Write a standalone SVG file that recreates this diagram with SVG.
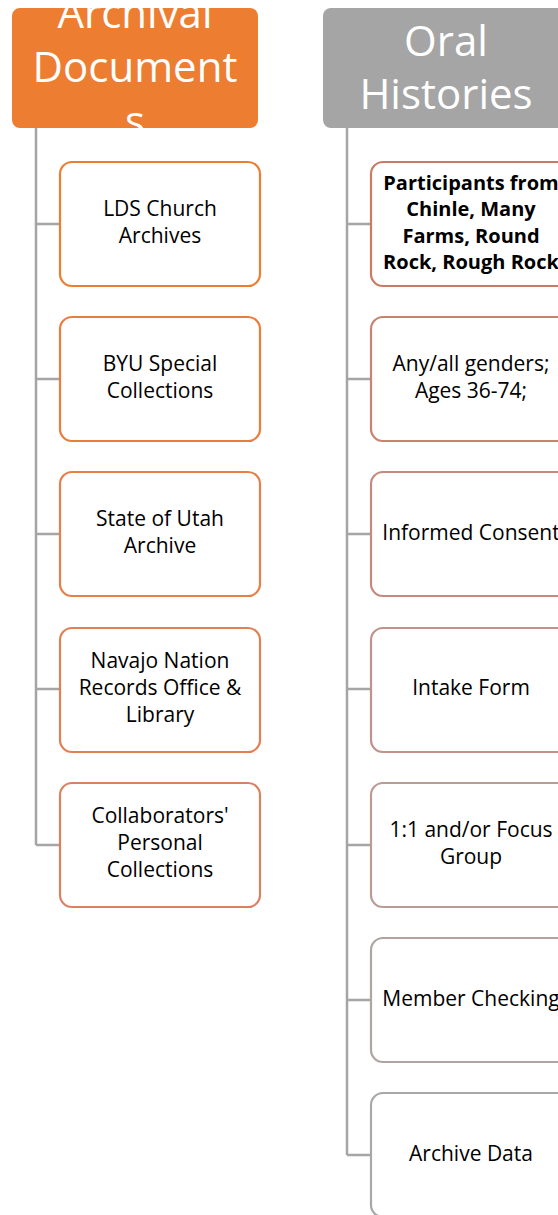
<svg xmlns="http://www.w3.org/2000/svg" width="558" height="1215" viewBox="0 0 558 1215">
<style>
.conn{fill:none;stroke:#A5A5A5;stroke-width:2.5}
.box{fill:#FFFFFF;stroke-width:2.2}
.t{font-family:"Open Sans","Liberation Sans",sans-serif;font-size:21px;fill:#000;text-anchor:middle}
.b{font-weight:bold;font-size:20px}
.h{font-family:"Open Sans","Liberation Sans",sans-serif;font-size:42px;fill:#FFFFFF;text-anchor:middle}
</style>
<rect width="558" height="1215" fill="#FFFFFF"/>
<g id="connectors">
<path class="conn" d="M36 128V845M36 224H60M36 379H60M36 534H60M36 689H60M36 845H60"/>
<path class="conn" d="M347 128V1155M347 224H371M347 379H371M347 534H371M347 689H371M347 845H371M347 1000H371M347 1155H371"/>
</g>
<g id="archival">
<rect x="12" y="8" width="246" height="120" rx="8" fill="#ED7D31"/>
<text class="h" x="135" y="28">Archival</text>
<text class="h" x="135" y="82">Document</text>
<text class="h" x="135" y="136">s</text>
</g>
<g id="oral">
<rect x="323" y="8" width="250" height="120" rx="8" fill="#A5A5A5"/>
<text class="h" x="446" y="56">Oral</text>
<text class="h" x="446" y="109">Histories</text>
</g>
<g id="lds"><rect class="box" x="60" y="162" width="200" height="124" rx="12" stroke="#ED7D31"/>
<text class="t" x="160" y="216">LDS Church</text><text class="t" x="160" y="243">Archives</text></g>
<g id="byu"><rect class="box" x="60" y="317" width="200" height="124" rx="12" stroke="#EA7D3C"/>
<text class="t" x="160" y="371">BYU Special</text><text class="t" x="160" y="398">Collections</text></g>
<g id="utah"><rect class="box" x="60" y="472" width="200" height="124" rx="12" stroke="#E67F48"/>
<text class="t" x="160" y="526">State of Utah</text><text class="t" x="160" y="553">Archive</text></g>
<g id="navajo"><rect class="box" x="60" y="628" width="200" height="124" rx="12" stroke="#E08055"/>
<text class="t" x="160" y="668">Navajo Nation</text><text class="t" x="160" y="695">Records Office &amp;</text><text class="t" x="160" y="722">Library</text></g>
<g id="collab"><rect class="box" x="60" y="783" width="200" height="124" rx="12" stroke="#D98262"/>
<text class="t" x="160" y="823">Collaborators'</text><text class="t" x="160" y="850">Personal</text><text class="t" x="160" y="877">Collections</text></g>
<g id="participants"><rect class="box" x="371" y="162" width="200" height="124" rx="12" stroke="#CB7B63"/>
<text class="t b" x="471" y="190">Participants from</text><text class="t b" x="471" y="216">Chinle, Many</text><text class="t b" x="471" y="243">Farms, Round</text><text class="t b" x="471" y="269">Rock, Rough Rock</text></g>
<g id="genders"><rect class="box" x="371" y="317" width="200" height="124" rx="12" stroke="#C8826F"/>
<text class="t" x="471" y="371">Any/all genders;</text><text class="t" x="471" y="398">Ages 36-74;</text></g>
<g id="consent"><rect class="box" x="371" y="472" width="200" height="124" rx="12" stroke="#C48A7E"/>
<text class="t" x="471" y="540">Informed Consent</text></g>
<g id="intake"><rect class="box" x="371" y="628" width="200" height="124" rx="12" stroke="#BF938B"/>
<text class="t" x="471" y="695">Intake Form</text></g>
<g id="focus"><rect class="box" x="371" y="783" width="200" height="124" rx="12" stroke="#BA9C97"/>
<text class="t" x="471" y="837">1:1 and/or Focus</text><text class="t" x="471" y="864">Group</text></g>
<g id="member"><rect class="box" x="371" y="938" width="200" height="124" rx="12" stroke="#B0A4A1"/>
<text class="t" x="471" y="1006">Member Checking</text></g>
<g id="archivedata"><rect class="box" x="371" y="1093" width="200" height="124" rx="12" stroke="#A8A8A8"/>
<text class="t" x="471" y="1161">Archive Data</text></g>
</svg>
